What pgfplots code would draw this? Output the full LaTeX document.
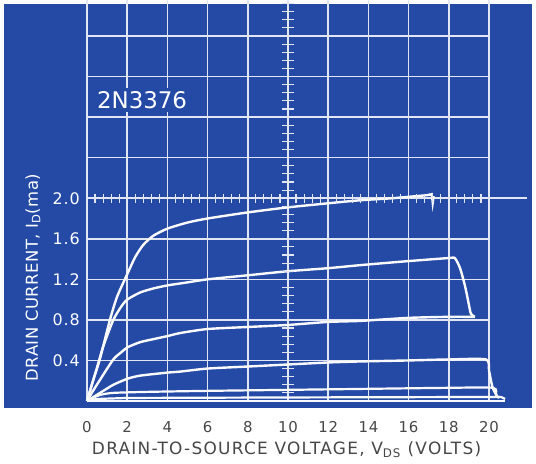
\documentclass[border=0pt]{standalone}
\usepackage{fontspec}
\setmainfont{DejaVu Sans}
\usepackage{pgfplots}
\pgfplotsset{compat=1.18}
\definecolor{panel}{RGB}{36,74,166}
\definecolor{gridc}{RGB}{226,230,244}
\definecolor{trace}{RGB}{250,250,252}
\definecolor{labgray}{RGB}{70,70,70}
\begin{document}
\begin{tikzpicture}
\fill[panel] (-83bp,-7bp) rectangle (445bp,397bp);
\begin{axis}[at={(0,0)}, anchor=south west, scale only axis,
  width=402bp, height=401bp,
  xmin=0, xmax=20, ymin=0, ymax=3.955, clip=false,
  axis line style={draw=none}, major tick length=0pt, minor tick length=0pt,
  xtick={0,2,4,6,8,10,12,14,16,18,20},
  xticklabels={0,2,4,6,8,10,12,14,16,18,20},
  ytick={0,0.4,0.8,1.2,1.6,2.0,2.4,2.8,3.2,3.6},
  yticklabels={,0.4,0.8,1.2,1.6,2.0,,,,},
  grid=major, grid style={gridc, line width=1.5bp},
  /pgf/number format/assume math mode=true,
  xticklabel style={font=\fontsize{15}{15}\selectfont\addfontfeature{LetterSpace=5}, text=labgray, anchor=north, inner sep=0pt, yshift=-20.7bp},
  yticklabel style={font=\fontsize{16}{16}\selectfont\addfontfeature{LetterSpace=6}, text=white, anchor=east, inner sep=0pt, xshift=-7bp},
]
% graticule extension and minor ticks
\addplot[gridc, line width=1.5bp] coordinates {(0,2) (21.9,2)};
\addplot[only marks, mark=|, mark size=4.5bp, mark options={gridc, line width=1.1bp}] coordinates {
(0.4,2)(0.8,2)(1.2,2)(1.6,2)(2.4,2)(2.8,2)(3.2,2)(3.6,2)(4.4,2)(4.8,2)(5.2,2)(5.6,2)(6.4,2)(6.8,2)(7.2,2)(7.6,2)(8.4,2)(8.8,2)(9.2,2)(9.6,2)
(10.4,2)(10.8,2)(11.2,2)(11.6,2)(12.4,2)(12.8,2)(13.2,2)(13.6,2)(14.4,2)(14.8,2)(15.2,2)(15.6,2)(16.4,2)(16.8,2)(17.2,2)(17.6,2)(18.4,2)(18.8,2)(19.2,2)(19.6,2)};
\addplot[only marks, mark=-, mark size=6.3bp, mark options={gridc, line width=1.1bp}] coordinates {
(10,0.08)(10,0.16)(10,0.24)(10,0.32)(10,0.48)(10,0.56)(10,0.64)(10,0.72)(10,0.88)(10,0.96)(10,1.04)(10,1.12)(10,1.28)(10,1.36)(10,1.44)(10,1.52)(10,1.68)(10,1.76)(10,1.84)(10,1.92)
(10,2.08)(10,2.16)(10,2.24)(10,2.32)(10,2.48)(10,2.56)(10,2.64)(10,2.72)(10,2.88)(10,2.96)(10,3.04)(10,3.12)(10,3.28)(10,3.36)(10,3.44)(10,3.52)(10,3.68)(10,3.76)(10,3.84)(10,3.92)};
% traces
\addplot[trace, line width=2.4bp, smooth, tension=0.4] coordinates {
(0,0)(0.3,0.2)(0.65,0.42)(1.14,0.8)(1.5,1.03)(2.0,1.25)(2.4,1.42)(2.8,1.54)(3.3,1.63)(4,1.70)(5,1.76)(6,1.80)(8,1.86)(10,1.91)(12,1.95)(13.6,1.98)(15.2,2.0)(16.9,2.03)(17.1,2.04)};
\addplot[trace, line width=2.2bp] coordinates {(17.0,2.03)(17.15,2.04)(17.2,1.95)(17.25,2.02)};
\addplot[trace, line width=2.4bp, smooth, tension=0.4] coordinates {
(0,0)(0.3,0.2)(0.5,0.33)(0.81,0.54)(1.31,0.80)(1.7,0.93)(2.0,1.0)(2.64,1.07)(3.3,1.11)(4,1.14)(5,1.17)(6,1.20)(8,1.24)(10,1.28)(12,1.31)(13.6,1.34)(16,1.38)(18,1.41)(18.3,1.41)(18.56,1.31)(18.8,1.14)(18.97,0.98)(19.1,0.86)(19.3,0.83)};
\addplot[trace, line width=2.4bp, smooth, tension=0.4] coordinates {
(0,0)(0.3,0.1)(0.65,0.21)(1.31,0.41)(1.7,0.48)(2.02,0.53)(2.64,0.58)(3.3,0.61)(4,0.64)(4.63,0.67)(6,0.71)(8,0.73)(10,0.75)(12,0.78)(13.6,0.79)(16,0.82)(18,0.83)(19.3,0.83)};
\addplot[trace, line width=2.4bp, smooth, tension=0.4] coordinates {
(0,0)(0.65,0.08)(1.31,0.16)(2.02,0.22)(2.64,0.25)(4,0.28)(4.63,0.29)(6,0.32)(8,0.34)(10,0.36)(12,0.38)(13.6,0.39)(16,0.40)(18,0.41)(19.85,0.41)(20.0,0.3)(20.1,0.2)(20.2,0.12)(20.4,0.05)};
\addplot[trace, line width=2.2bp, smooth, tension=0.4] coordinates {
(0,0)(0.3,0.03)(0.65,0.06)(1.3,0.08)(3,0.09)(6,0.10)(10,0.11)(14,0.12)(18,0.13)(20.2,0.13)(20.35,0.06)(20.5,0.03)};
\addplot[trace, line width=2.2bp] coordinates {
(0,0)(0.5,0.02)(2,0.03)(10,0.035)(20.6,0.04)(20.8,0.02)};
\addplot[trace, line width=2.2bp] coordinates {(0,0)(20.8,0.0)};
% texts
\node[fill=panel, text=white, font=\fontsize{23}{23}\selectfont, inner sep=3bp] at (axis cs:2.74,2.968) {2N3376};
\node[rotate=90, text=white, font=\fontsize{16.5}{16.5}\selectfont\addfontfeature{LetterSpace=3}] at (axis cs:-2.69,1.218) {DRAIN CURRENT, I\textsubscript{D}(ma)};
\node[anchor=base, text=labgray, font=\fontsize{17}{17}\selectfont\addfontfeature{LetterSpace=7.5}] at (axis cs:9.93,-0.5256) {DRAIN-TO-SOURCE VOLTAGE, V\textsubscript{DS} (VOLTS)};
\end{axis}
\pgfresetboundingbox
\useasboundingbox (-87bp,-63bp) rectangle (449bp,401bp);
\end{tikzpicture}
\end{document}
